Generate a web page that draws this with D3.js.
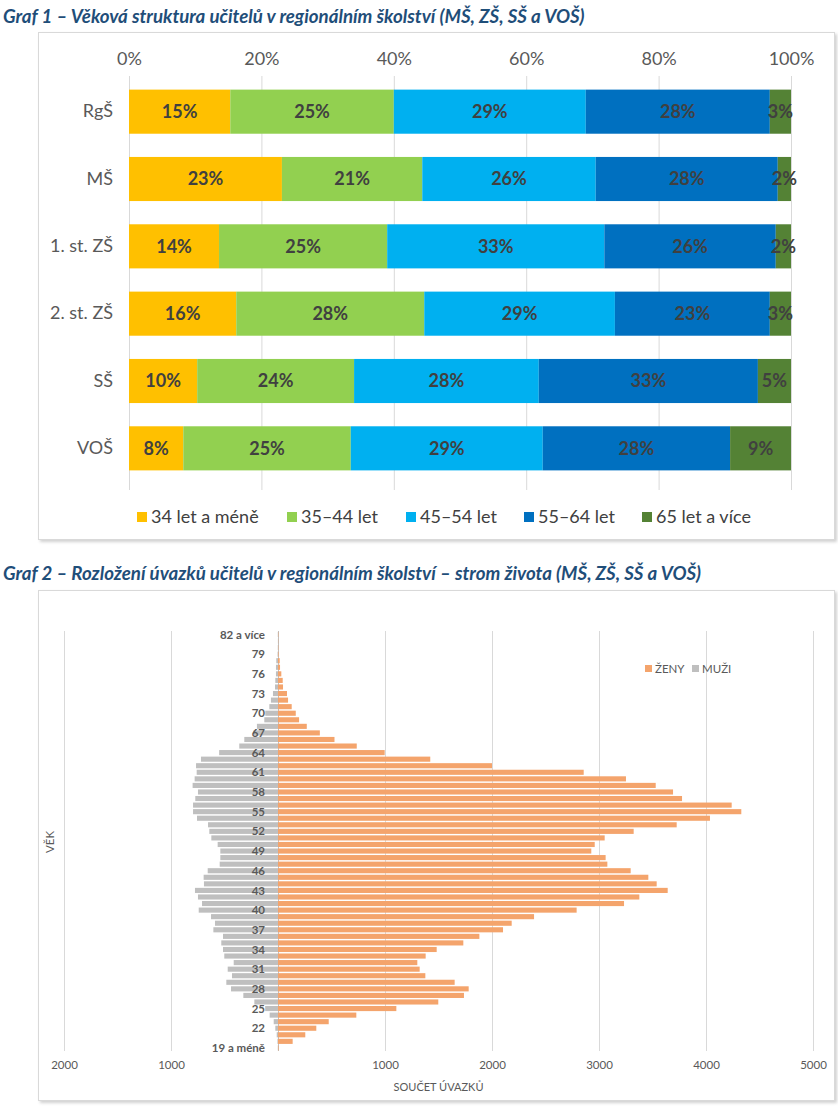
<!DOCTYPE html>
<html>
<head>
<meta charset="utf-8">
<script src="https://cdn.jsdelivr.net/npm/d3@7"></script>
<style>
    body { margin: 0; background: #ffffff; }
    svg { display: block; }
</style>
</head>
<body>
<div id="page"></div>
<script>
// ---- Graf 1 data (shares in %) ----
var schoolTypes = ["RgŠ", "MŠ", "1. st. ZŠ", "2. st. ZŠ", "SŠ", "VOŠ"];
var ageGroups = ["34 let a méně", "35–44 let", "45–54 let", "55–64 let", "65 let a více"];
var share34 = [15.3, 23.1, 13.6, 16.2, 10.3, 8.2];
var share35 = [24.7, 21.2, 25.4, 28.4, 23.7, 25.3];
var share45 = [29.0, 26.2, 32.8, 28.8, 27.9, 29.0];
var share55 = [27.8, 27.5, 25.9, 23.4, 33.1, 28.3];
var share65 = [3.2, 2.0, 2.3, 3.2, 5.0, 9.2];
var percentTicks = [0, 20, 40, 60, 80, 100];

// ---- Graf 2 data (součet úvazků by age) ----
var ages = ["82 a více", "81", "80", "79", "78", "77", "76", "75", "74", "73", "72", "71", "70",
    "69", "68", "67", "66", "65", "64", "63", "62", "61", "60", "59", "58", "57", "56", "55",
    "54", "53", "52", "51", "50", "49", "48", "47", "46", "45", "44", "43", "42", "41", "40",
    "39", "38", "37", "36", "35", "34", "33", "32", "31", "30", "29", "28", "27", "26", "25",
    "24", "23", "22", "21", "20", "19 a méně"];
var zeny = [3, 2, 3, 5, 16, 19, 31, 44, 47, 84, 94, 128, 166,
    197, 269, 391, 528, 736, 997, 1423, 2000, 2857, 3252, 3530, 3692, 3776, 4240, 4330,
    4037, 3726, 3324, 3053, 2960, 2928, 3062, 3078, 3296, 3461, 3539, 3642, 3377, 3234, 2791,
    2393, 2184, 2103, 1882, 1732, 1483, 1380, 1302, 1324, 1377, 1651, 1782, 1738, 1498, 1106,
    732, 474, 358, 255, 137, 5];
var muzi = [2, 1, 2, 4, 16, 19, 19, 25, 28, 47, 66, 81, 119,
    128, 197, 230, 315, 362, 550, 720, 766, 760, 779, 798, 748, 773, 794, 794,
    757, 654, 642, 623, 564, 539, 539, 545, 657, 695, 692, 776, 748, 710, 741,
    626, 589, 604, 514, 530, 514, 502, 414, 470, 430, 483, 439, 324, 221, 120,
    78, 40, 25, 12, 5, 2];
var uvazkyTicks = [-2000, -1000, 0, 1000, 2000, 3000, 4000, 5000];

var FONT = "Lato, 'Open Sans', sans-serif";
var ageColors = ["#FFC000", "#92D050", "#00B0F0", "#0070C0", "#548235"];

var svg = d3.select("#page")
    .append("svg")
    .attr("width", 838)
    .attr("height", 1110);

var defs = svg.append("defs");
var shadow = defs.append("filter").attr("id", "shadow")
    .attr("x", "-5%").attr("y", "-5%").attr("width", "110%").attr("height", "110%");
shadow.append("feDropShadow")
    .attr("dx", 2).attr("dy", 2).attr("stdDeviation", 1.5)
    .attr("flood-color", "#000").attr("flood-opacity", 0.18);

function chartTitle(txt, y) {
    svg.append("text")
        .attr("x", 3)
        .attr("y", y)
        .text(txt)
        .style("font-family", FONT)
        .style("font-size", "18.7px")
        .style("font-style", "italic")
        .style("font-weight", "bold")
        .style("fill", "#1F4E79");
}

function chartBox(x, y, w, h) {
    svg.append("rect")
        .attr("x", x).attr("y", y)
        .attr("width", w).attr("height", h)
        .attr("fill", "#fff")
        .attr("stroke", "#D9D9D9")
        .attr("stroke-width", 1)
        .attr("filter", "url(#shadow)");
}

// =================== Graf 1 ===================
chartTitle("Graf 1 – Věková struktura učitelů v regionálním školství (MŠ, ZŠ, SŠ a VOŠ)", 23);
chartBox(38.5, 32.5, 796, 507);

var x1 = d3.scaleLinear()
    .domain([0, 100])
    .range([129, 791]);

var y1 = d3.scaleBand()
    .domain(schoolTypes)
    .range([78, 482])
    .paddingInner(0.345)
    .paddingOuter(0.1725);

var g1 = svg.append("g");

// vertical gridlines
g1.selectAll(".grid1")
    .data(percentTicks)
    .enter().append("line")
    .attr("x1", function (d) { return x1(d) + 0.5; })
    .attr("x2", function (d) { return x1(d) + 0.5; })
    .attr("y1", 76)
    .attr("y2", 490)
    .style("stroke", "#D9D9D9")
    .style("stroke-width", 1);

// top axis labels
var axisTop = g1.append("g")
    .attr("transform", "translate(0,65)")
    .call(d3.axisTop(x1).tickValues(percentTicks).tickSize(0).tickPadding(0)
        .tickFormat(function (d) { return d + "%"; }));
axisTop.select(".domain").remove();
axisTop.selectAll("text")
    .style("font-family", FONT)
    .style("font-size", "18px")
    .style("fill", "#595959");

// category labels
var axisLeft1 = g1.append("g")
    .attr("transform", "translate(113,0)")
    .call(d3.axisLeft(y1).tickSize(0).tickPadding(0));
axisLeft1.select(".domain").remove();
axisLeft1.selectAll("text")
    .style("font-family", FONT)
    .style("font-size", "18px")
    .style("fill", "#595959");

// stack the five age groups
var table1 = schoolTypes.map(function (s, i) {
    return { school: s, g0: share34[i], g1: share35[i], g2: share45[i], g3: share55[i], g4: share65[i] };
});
var stacked = d3.stack().keys(["g0", "g1", "g2", "g3", "g4"])(table1);

var layers = g1.selectAll(".layer")
    .data(stacked)
    .enter().append("g")
    .attr("fill", function (d, i) { return ageColors[i]; });

layers.selectAll("rect")
    .data(function (d) { return d; })
    .enter().append("rect")
    .attr("x", function (d) { return x1(d[0]); })
    .attr("y", function (d) { return y1(d.data.school); })
    .attr("width", function (d) { return x1(d[1]) - x1(d[0]); })
    .attr("height", y1.bandwidth());

// data labels
layers.selectAll("text")
    .data(function (d) { return d; })
    .enter().append("text")
    .attr("x", function (d) { return (x1(d[0]) + x1(d[1])) / 2; })
    .attr("y", function (d) { return y1(d.data.school) + y1.bandwidth() / 2; })
    .attr("dy", "0.36em")
    .attr("text-anchor", "middle")
    .text(function (d) { return Math.round(d[1] - d[0]) + "%"; })
    .style("font-family", FONT)
    .style("font-size", "18px")
    .style("font-weight", "bold")
    .style("fill", "#404040");

// legend
var legendX = [137, 287, 406, 524, 642];
var legend1 = g1.selectAll(".leg1")
    .data(ageGroups)
    .enter().append("g")
    .attr("transform", function (d, i) { return "translate(" + legendX[i] + ",512)"; });
legend1.append("rect")
    .attr("width", 10).attr("height", 10)
    .attr("fill", function (d, i) { return ageColors[i]; });
legend1.append("text")
    .attr("x", 14)
    .attr("y", 5)
    .attr("dy", "0.36em")
    .text(function (d) { return d; })
    .style("font-family", FONT)
    .style("font-size", "18px")
    .style("fill", "#404040");

// =================== Graf 2 ===================
chartTitle("Graf 2 – Rozložení úvazků učitelů v regionálním školství – strom života (MŠ, ZŠ, SŠ a VOŠ)", 580);
chartBox(38.5, 590.5, 796, 510);

var x2 = d3.scaleLinear()
    .domain([-2000, 5000])
    .range([64, 813]);

var y2 = d3.scaleBand()
    .domain(ages)
    .range([631.2, 1051.2])
    .paddingInner(0.22)
    .paddingOuter(0.11);

var g2 = svg.append("g");

// gridlines
g2.selectAll(".grid2")
    .data(uvazkyTicks)
    .enter().append("line")
    .attr("x1", function (d) { return Math.round(x2(d)) + 0.5; })
    .attr("x2", function (d) { return Math.round(x2(d)) + 0.5; })
    .attr("y1", 631)
    .attr("y2", 1051)
    .style("stroke", function (d) { return d === 0 ? "#BFBFBF" : "#D9D9D9"; })
    .style("stroke-width", 1);

// bottom axis, absolute values, zero hidden
var axisBottom2 = g2.append("g")
    .attr("transform", "translate(0,1061)")
    .call(d3.axisBottom(x2).tickValues(uvazkyTicks).tickSize(0).tickPadding(0)
        .tickFormat(function (d) { return d === 0 ? "" : Math.abs(d); }));
axisBottom2.select(".domain").remove();
axisBottom2.selectAll("text")
    .style("font-family", FONT)
    .style("font-size", "11.5px")
    .style("fill", "#595959");

// men to the left
g2.selectAll(".muzi")
    .data(muzi)
    .enter().append("rect")
    .attr("x", function (d) { return x2(-d); })
    .attr("y", function (d, i) { return y2(ages[i]); })
    .attr("width", function (d) { return x2(0) - x2(-d); })
    .attr("height", y2.bandwidth())
    .attr("fill", "#BFBFBF");

// women to the right
g2.selectAll(".zeny")
    .data(zeny)
    .enter().append("rect")
    .attr("x", x2(0))
    .attr("y", function (d, i) { return y2(ages[i]); })
    .attr("width", function (d) { return x2(d) - x2(0); })
    .attr("height", y2.bandwidth())
    .attr("fill", "#F4A46C");

// age labels, every third
g2.selectAll(".ageLabel")
    .data(ages.filter(function (d, i) { return (ages.length - 1 - i) % 3 === 0; }))
    .enter().append("text")
    .attr("x", x2(0) - 13)
    .attr("y", function (d) { return y2(d) + y2.bandwidth() / 2; })
    .attr("dy", "0.36em")
    .attr("text-anchor", "end")
    .text(function (d) { return d; })
    .style("font-family", FONT)
    .style("font-size", "11.5px")
    .style("font-weight", "bold")
    .style("fill", "#595959");

// axis titles
svg.append("text")
    .attr("x", (x2.range()[0] + x2.range()[1]) / 2)
    .attr("y", 1091)
    .attr("text-anchor", "middle")
    .text("SOUČET ÚVAZKŮ")
    .style("font-family", FONT)
    .style("font-size", "11px")
    .style("fill", "#595959");

svg.append("text")
    .attr("transform", "translate(54,842) rotate(-90)")
    .attr("text-anchor", "middle")
    .text("VĚK")
    .style("font-family", FONT)
    .style("font-size", "11.5px")
    .style("fill", "#595959");

// legend
var legend2 = svg.selectAll(".leg2")
    .data([["ŽENY", "#F4A46C", 645], ["MUŽI", "#BFBFBF", 692]])
    .enter().append("g")
    .attr("transform", function (d) { return "translate(" + d[2] + ",665)"; });
legend2.append("rect")
    .attr("width", 7).attr("height", 7)
    .attr("fill", function (d) { return d[1]; });
legend2.append("text")
    .attr("x", 10)
    .attr("y", 3.5)
    .attr("dy", "0.36em")
    .text(function (d) { return d[0]; })
    .style("font-family", FONT)
    .style("font-size", "11.5px")
    .style("fill", "#595959");
</script>
</body>
</html>
